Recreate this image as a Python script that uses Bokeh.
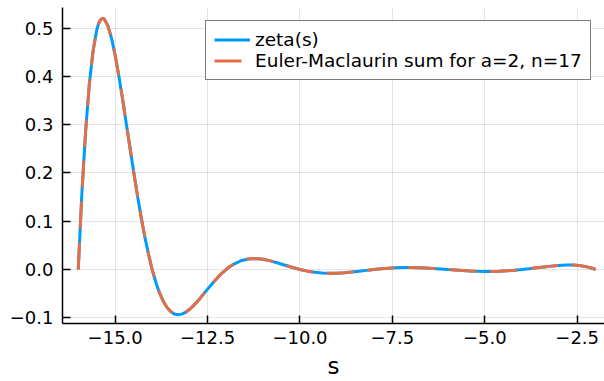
from bokeh.plotting import figure
from bokeh.models import FixedTicker, Range1d, Legend, LegendItem
from bokeh.embed import file_html
from bokeh.resources import INLINE

# ---- data ----
s_vals = [-16.0, -15.9, -15.8, -15.7, -15.6, -15.5, -15.45, -15.4, -15.35, -15.3, -15.2, -15.1,
          -15.0, -14.9, -14.8, -14.7, -14.6, -14.5, -14.4, -14.3, -14.2, -14.1, -14.0,
          -13.9, -13.8, -13.7, -13.6, -13.5, -13.4, -13.3, -13.2, -13.1, -13.0,
          -12.9, -12.8, -12.7, -12.6, -12.5, -12.4, -12.3, -12.2, -12.1, -12.0,
          -11.9, -11.8, -11.6, -11.4, -11.2, -11.0, -10.8, -10.6, -10.4, -10.2, -10.0,
          -9.8, -9.6, -9.4, -9.2, -9.0, -8.8, -8.6, -8.4, -8.2, -8.0,
          -7.8, -7.6, -7.4, -7.2, -7.0, -6.8, -6.6, -6.4, -6.2, -6.0,
          -5.8, -5.6, -5.4, -5.2, -5.0, -4.8, -4.6, -4.4, -4.2, -4.0,
          -3.8, -3.6, -3.4, -3.2, -3.0, -2.8, -2.7, -2.6, -2.4, -2.2, -2.1, -2.0]

zeta_vals = [0.0, 0.160, 0.287, 0.384, 0.452, 0.496, 0.509, 0.517, 0.520, 0.519, 0.505, 0.479,
             0.443, 0.400, 0.353, 0.302, 0.252, 0.202, 0.154, 0.109, 0.068, 0.032, 0.0,
             -0.0267, -0.0485, -0.0657, -0.0784, -0.0871, -0.0920, -0.0936, -0.0924, -0.0889, -0.0833,
             -0.0763, -0.0681, -0.0593, -0.0500, -0.0406, -0.0314, -0.0226, -0.0143, -0.0068, 0.0,
             0.0059, 0.0108, 0.0181, 0.0218, 0.0226, 0.0211, 0.0178, 0.0135, 0.0088, 0.0042, 0.0,
             -0.0034, -0.0058, -0.0073, -0.0078, -0.0076, -0.0067, -0.0053, -0.0036, -0.0018, 0.0,
             0.0015, 0.0028, 0.0036, 0.0041, 0.0042, 0.0038, 0.0032, 0.0023, 0.0012, 0.0,
             -0.0011, -0.0022, -0.0030, -0.0037, -0.0040, -0.0039, -0.0035, -0.0027, -0.0015, 0.0,
             0.0017, 0.0035, 0.0053, 0.0070, 0.0083, 0.0091, 0.0092, 0.0091, 0.0078, 0.0049, 0.0027, 0.0]

# Euler-Maclaurin approximation: indistinguishable from zeta(s) in the picture
em_vals = list(zeta_vals)

series_labels = ["zeta(s)", "Euler-Maclaurin sum for a=2, n=17"]

x_ticks = [-15.0, -12.5, -10.0, -7.5, -5.0, -2.5]
x_tick_labels = ["\u221215.0", "\u221212.5", "\u221210.0", "\u22127.5", "\u22125.0", "\u22122.5"]
y_ticks = [-0.1, 0.0, 0.1, 0.2, 0.3, 0.4, 0.5]
y_tick_labels = ["\u22120.1", "0.0", "0.1", "0.2", "0.3", "0.4", "0.5"]

FONT = "DejaVu Sans"

p = figure(width=604, height=381, output_backend="svg", toolbar_location=None,
           x_range=Range1d(-16.426, -1.761), y_range=Range1d(-0.1118, 0.5425),
           min_border=0, min_border_left=62, min_border_top=7)
p.outline_line_color = None
p.background_fill_color = "white"

r1 = p.line(s_vals, zeta_vals, line_color="#009AFA", line_width=3)
r2 = p.line(s_vals, em_vals, line_color="#E36F47", line_width=3, line_dash="27 14")

legend = Legend(items=[LegendItem(label=series_labels[0], renderers=[r1]),
                       LegendItem(label=series_labels[1], renderers=[r2])],
                location=(143, 243))
legend.border_line_color = "black"
legend.border_line_width = 1
legend.background_fill_color = "white"
legend.background_fill_alpha = 1.0
legend.label_text_font = FONT
legend.label_text_font_size = "18.5px"
legend.label_text_color = "black"
legend.glyph_width = 36
legend.glyph_height = 21
legend.label_height = 21
legend.label_standoff = 5
legend.spacing = 0
legend.padding = 8
legend.margin = 0
p.add_layout(legend)

p.xaxis.ticker = FixedTicker(ticks=x_ticks)
p.xaxis.major_label_overrides = dict(zip(x_ticks, x_tick_labels))
p.yaxis.ticker = FixedTicker(ticks=y_ticks)
p.yaxis.major_label_overrides = dict(zip(y_ticks, y_tick_labels))

for ax in (p.xaxis, p.yaxis):
    ax.axis_line_color = "black"
    ax.axis_line_width = 1.5
    ax.major_tick_line_color = "black"
    ax.major_tick_line_width = 1.5
    ax.major_tick_in = 8
    ax.major_tick_out = 0
    ax.minor_tick_in = 0
    ax.minor_tick_out = 0
    ax.major_label_text_font = FONT
    ax.major_label_text_font_size = "18px"
    ax.major_label_text_color = "black"

p.xaxis.major_label_standoff = 7
p.yaxis.major_label_standoff = 9

p.xaxis.axis_label = "s"
p.xaxis.axis_label_text_font = FONT
p.xaxis.axis_label_text_font_size = "23px"
p.xaxis.axis_label_text_font_style = "normal"
p.xaxis.axis_label_text_color = "black"
p.xaxis.axis_label_standoff = 6

p.grid.grid_line_color = "black"
p.grid.grid_line_alpha = 0.1
p.grid.grid_line_width = 1

open("out.html", "w").write(file_html(p, INLINE))
